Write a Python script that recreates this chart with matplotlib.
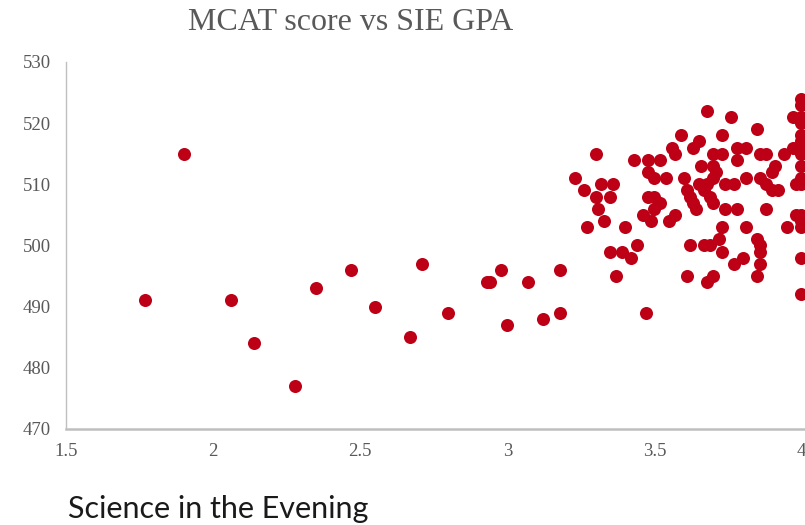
import numpy as np
import matplotlib
matplotlib.use("Agg")
from matplotlib import pyplot as plt

# SIE GPA (x) and MCAT score (y)
gpa = [1.77, 1.90, 2.06, 2.14, 2.28, 2.35, 2.47, 2.55, 2.67, 2.71, 2.80, 2.93, 2.94,
       2.98, 3.00, 3.07, 3.12, 3.18, 3.18,
       3.68, 3.76, 3.85, 3.59, 3.73, 3.65, 3.63, 3.56, 3.57, 3.30, 3.43, 3.48, 3.52,
       3.70, 3.73, 3.78, 3.81, 3.78, 3.86, 3.88, 3.94, 3.91, 3.90, 3.66, 3.70, 3.71,
       3.23, 3.48, 3.50, 3.54, 3.60, 3.70, 3.65, 3.68, 3.74, 3.77, 3.81, 3.86, 3.88,
       3.90, 3.92, 3.32, 3.36, 3.26, 3.30, 3.35, 3.31, 3.48, 3.50, 3.52, 3.50, 3.61,
       3.62, 3.63, 3.64, 3.67, 3.69, 3.70, 3.74, 3.78, 3.88, 3.27, 3.33, 3.40, 3.46,
       3.49, 3.55, 3.57, 3.73, 3.81, 3.95, 3.35, 3.39, 3.42, 3.44, 3.62, 3.67, 3.69,
       3.72, 3.73, 3.77, 3.80, 3.85, 3.86, 3.86, 3.86, 3.37, 3.61, 3.68, 3.70, 3.85,
       3.47, 3.97, 3.98, 3.97, 3.98,
       4.00, 4.00, 4.00, 4.00, 4.00, 4.00, 4.00, 4.00, 4.00, 4.00, 4.00, 4.00, 4.00,
       4.00, 4.00, 4.00]
mcat = [491, 515, 491, 484, 477, 493, 496, 490, 485, 497, 489, 494, 494,
        496, 487, 494, 488, 496, 489,
        522, 521, 519, 518, 518, 517, 516, 516, 515, 515, 514, 514, 514,
        515, 515, 516, 516, 514, 515, 515, 515, 513, 512, 513, 513, 512,
        511, 512, 511, 511, 511, 511, 510, 510, 510, 510, 511, 511, 510,
        509, 509, 510, 510, 509, 508, 508, 506, 508, 508, 507, 506, 509,
        508, 507, 506, 509, 508, 507, 506, 506, 506, 503, 504, 503, 505,
        504, 504, 505, 503, 503, 503, 499, 499, 498, 500, 500, 500, 500,
        501, 499, 497, 498, 501, 500, 499, 497, 495, 495, 494, 495, 495,
        489, 521, 510, 516, 505,
        524, 523, 521, 520, 518, 517, 516, 515, 513, 511, 510, 505, 504,
        503, 498, 492]

x_ticks = [1.5, 2, 2.5, 3, 3.5, 4]
x_labels = ["1.5", "2", "2.5", "3", "3.5", "4"]
y_ticks = [470, 480, 490, 500, 510, 520, 530]

serif = "Liberation Serif"
gris = "#595959"

fig = plt.figure(figsize=(8.05, 5.25), dpi=100)
ax = fig.add_axes([0.082, 0.183, 0.918, 0.699])

ax.scatter(gpa, mcat, s=88, color="#BD0016", linewidths=0, zorder=3)

ax.set_xlim(1.5, 4.012)
ax.set_ylim(470, 530)
ax.set_xticks(x_ticks)
ax.set_xticklabels(x_labels)
ax.set_yticks(y_ticks)

for s in ["top", "right"]:
    ax.spines[s].set_visible(False)
ax.spines["left"].set_color("#BFBFBF")
ax.spines["left"].set_linewidth(1.0)
ax.spines["bottom"].set_color("#BFBFBF")
ax.spines["bottom"].set_linewidth(1.8)

ax.tick_params(axis="both", length=0, colors=gris, labelsize=13.5)
ax.tick_params(axis="x", pad=10)
ax.tick_params(axis="y", pad=11)
for lab in ax.get_xticklabels() + ax.get_yticklabels():
    lab.set_fontfamily(serif)

fig.text(0.435, 0.958, "MCAT score vs SIE GPA", ha="center", va="center",
         fontsize=23, family=serif, color=gris)
fig.text(0.084, 0.030, "Science in the Evening", ha="left", va="center",
         fontsize=22, family="Lato", color="#1a1a1a")

fig.savefig("out.png", dpi=100)
